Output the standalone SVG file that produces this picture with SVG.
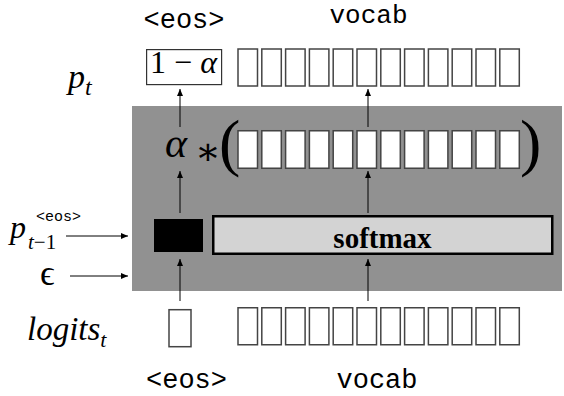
<svg xmlns="http://www.w3.org/2000/svg" width="564" height="396" viewBox="0 0 564 396">
<style>
  .bx{fill:#fff;stroke:#444;stroke-width:1.5}
  .mono{font-family:"Liberation Mono","DejaVu Sans Mono",monospace;fill:#000}
  .serif{font-family:"Liberation Serif","DejaVu Serif",serif;fill:#000}
  .it{font-style:italic}
  .ln{stroke:#000;stroke-width:1;fill:none;marker-end:url(#ah)}
</style>
<defs>
  <marker id="ah" markerUnits="userSpaceOnUse" markerWidth="7" markerHeight="6" refX="7" refY="3" orient="auto">
    <path d="M0,0 L7,3 L0,6 z" fill="#000"/>
  </marker>
  <g id="row">
    <rect class="bx" x="0" y="0" width="19.5" height="37"/>
    <rect class="bx" x="23.8" y="0" width="19.5" height="37"/>
    <rect class="bx" x="47.6" y="0" width="19.5" height="37"/>
    <rect class="bx" x="71.4" y="0" width="19.5" height="37"/>
    <rect class="bx" x="95.2" y="0" width="19.5" height="37"/>
    <rect class="bx" x="119" y="0" width="19.5" height="37"/>
    <rect class="bx" x="142.8" y="0" width="19.5" height="37"/>
    <rect class="bx" x="166.6" y="0" width="19.5" height="37"/>
    <rect class="bx" x="190.4" y="0" width="19.5" height="37"/>
    <rect class="bx" x="214.2" y="0" width="19.5" height="37"/>
    <rect class="bx" x="238" y="0" width="19.5" height="37"/>
    <rect class="bx" x="261.8" y="0" width="19.5" height="37"/>
  </g>
</defs>

<g id="block">
  <rect x="132" y="106" width="430" height="185" fill="#919191"/>
</g>

<g id="top-labels">
  <text class="mono" x="184" y="28" font-size="27" text-anchor="middle">&lt;eos&gt;</text>
  <text class="mono" x="368.5" y="23" font-size="26" text-anchor="middle">vocab</text>
</g>

<g id="pt-label">
  <text class="serif it" x="68" y="88" font-size="34">p<tspan font-size="24" dy="7">t</tspan></text>
</g>

<g id="pt-eos">
  <rect x="146.6" y="49.6" width="75" height="35" fill="#fff" stroke="#333" stroke-width="1.2"/>
  <text class="serif" x="183.5" y="73" font-size="32" text-anchor="middle">1 − <tspan class="it">α</tspan></text>
</g>

<g id="pt-vocab">
  <use href="#row" transform="translate(238,49)"/>
</g>

<g id="alpha-expr">
  <text class="serif it" x="165" y="157" font-size="42">α</text>
  <text class="serif" x="195" y="164" font-size="38">∗</text>
  <text class="serif" x="219" y="164" font-size="64">(</text>
  <text class="serif" x="520" y="164" font-size="64">)</text>
</g>

<g id="mid-vocab">
  <use href="#row" transform="translate(238,130.75) scale(1,1.0135)"/>
</g>

<g id="eos-gate">
  <rect x="154" y="219" width="49" height="33" fill="#000"/>
</g>

<g id="softmax">
  <rect x="213.25" y="216.25" width="339" height="37.5" fill="#d3d3d3" stroke="#000" stroke-width="2.5"/>
  <text class="serif" x="382.5" y="248" font-size="29" font-weight="bold" text-anchor="middle">softmax</text>
</g>

<g id="prev-label">
  <text class="serif it" x="10" y="238" font-size="32">p</text>
  <text class="serif it" x="28" y="249" font-size="21">t<tspan font-style="normal">−1</tspan></text>
  <text class="mono" x="36" y="221" font-size="15">&lt;eos&gt;</text>
</g>

<g id="eps-label">
  <text class="serif" x="40" y="285" font-size="36">ϵ</text>
</g>

<g id="logits-label">
  <text class="serif it" x="27" y="340" font-size="33">logits<tspan font-size="22" dy="7">t</tspan></text>
</g>

<g id="logits-eos">
  <rect x="169" y="309.7" width="22" height="37" fill="#fff" stroke="#444" stroke-width="1.5"/>
</g>

<g id="logits-vocab">
  <use href="#row" transform="translate(238,307.75)"/>
</g>

<g id="bottom-labels">
  <text class="mono" x="186.5" y="388" font-size="27" text-anchor="middle">&lt;eos&gt;</text>
  <text class="mono" x="377" y="388" font-size="27" text-anchor="middle">vocab</text>
</g>

<g id="connectors">
  <line class="ln" x1="180" y1="127" x2="180" y2="89"/>
  <line class="ln" x1="368" y1="127" x2="368" y2="89"/>
  <line class="ln" x1="180" y1="213" x2="180" y2="171"/>
  <line class="ln" x1="368" y1="213" x2="368" y2="171"/>
  <line class="ln" x1="180" y1="301" x2="180" y2="259"/>
  <line class="ln" x1="368" y1="301" x2="368" y2="259"/>
  <line class="ln" x1="66" y1="236" x2="128" y2="236"/>
  <line class="ln" x1="70" y1="276" x2="128" y2="276"/>
</g>
</svg>
